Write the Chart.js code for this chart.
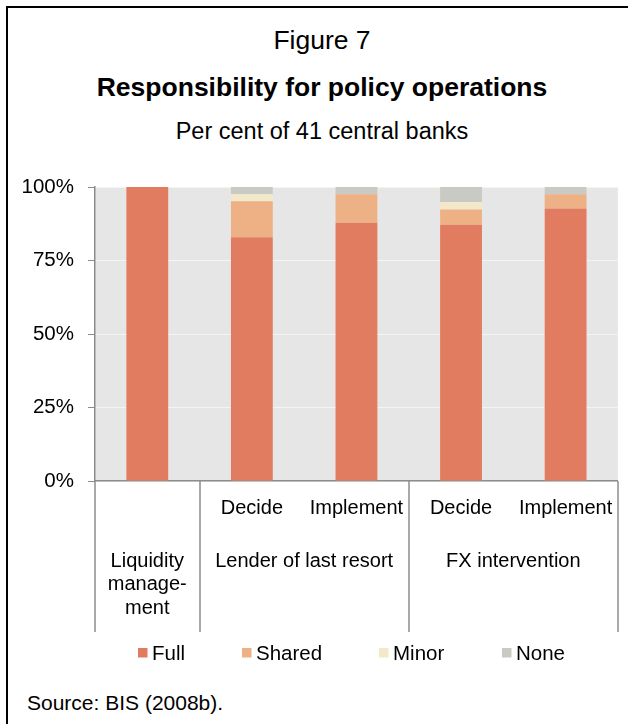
<!DOCTYPE html>
<html>
<head>
<meta charset="utf-8">
<script src="https://cdn.jsdelivr.net/npm/chart.js@4.4.1/dist/chart.umd.min.js"></script>
<style>
  html, body { margin:0; padding:0; background:#fff; overflow:hidden; }
  body { width:628px; height:724px; position:relative; font-family:"Liberation Sans", Arial, sans-serif; color:#000; }
  .ln { position:absolute; background:#000; }
  .txt { position:absolute; left:0; width:644px; text-align:center; white-space:nowrap; }
  #c { position:absolute; left:0; top:0; }
</style>
</head>
<body>
<div class="ln" style="left:6px;top:6px;width:622px;height:2px;"></div>
<div class="ln" style="left:6px;top:6px;width:2px;height:718px;"></div>
<div class="txt" style="top:24px;font-size:26.5px;line-height:32px;">Figure 7</div>
<div class="txt" style="top:71px;font-size:26.5px;line-height:32px;font-weight:bold;">Responsibility for policy operations</div>
<div class="txt" style="top:117px;font-size:23.5px;line-height:28px;">Per cent of 41 central banks</div>
<div style="position:absolute;left:27px;top:690px;font-size:21px;line-height:26px;white-space:nowrap;">Source: BIS (2008b).</div>
<canvas id="c" width="628" height="724"></canvas>
<script>
// ---- data ----
const categories = ['Liquidity management', 'LOLR decide', 'LOLR implement', 'FX decide', 'FX implement'];
const subLabels = ['', 'Decide', 'Implement', 'Decide', 'Implement'];
const groupLabels = [['Liquidity', 'manage-', 'ment'], ['Lender of last resort'], ['FX intervention']];
const groupStarts = [0, 1, 3];
const groupEnds = [0, 2, 4];
const seriesNames = ['Full', 'Shared', 'Minor', 'None'];
const full   = [100, 82.93, 87.80, 87.18, 92.68];
const shared = [0, 12.20, 9.76, 5.13, 4.88];
const minor  = [0, 2.44, 0, 2.56, 0];
const none   = [0, 2.44, 2.44, 5.13, 2.44];
const yTicks = [0, 25, 50, 75, 100];

const colors = ['#E27C60', '#EEB185', '#F3E8C9', '#CACAC5'];
const seriesValues = [full, shared, minor, none];

const FONT = '"Liberation Sans", Arial, sans-serif';

const decor = {
  id: 'decor',
  beforeDraw(chart) {
    const a = chart.chartArea, ctx = chart.ctx;
    ctx.save();
    ctx.fillStyle = '#E6E6E6';
    ctx.fillRect(a.left, a.top, a.right - a.left, a.bottom - a.top);
    ctx.restore();
  },
  afterDraw(chart) {
    const a = chart.chartArea, ctx = chart.ctx, x = chart.scales.x;
    const half = (x.getPixelForValue(1) - x.getPixelForValue(0)) / 2;
    ctx.save();
    // separators
    ctx.strokeStyle = '#8C8C8C';
    ctx.lineWidth = 1.5;
    const bounds = groupStarts.map(i => x.getPixelForValue(i) - half);
    bounds.push(x.getPixelForValue(groupEnds[groupEnds.length - 1]) + half);
    bounds.forEach(bx => {
      ctx.beginPath();
      ctx.moveTo(Math.round(bx), a.bottom);
      ctx.lineTo(Math.round(bx), 632);
      ctx.stroke();
    });
    // group labels
    ctx.fillStyle = '#000';
    ctx.font = '20px ' + FONT;
    ctx.textAlign = 'center';
    ctx.textBaseline = 'middle';
    groupLabels.forEach((lines, g) => {
      const cx = (x.getPixelForValue(groupStarts[g]) + x.getPixelForValue(groupEnds[g])) / 2;
      lines.forEach((t, k) => ctx.fillText(t, cx, 561 + k * 23.5));
    });
    // legend
    const legendX = [138, 242, 379, 502];
    ctx.font = '20.5px ' + FONT;
    ctx.textAlign = 'left';
    chart.data.datasets.forEach((ds, i) => {
      ctx.fillStyle = ds.backgroundColor;
      ctx.fillRect(legendX[i], 648, 9.5, 9.5);
      ctx.fillStyle = '#000';
      ctx.fillText(ds.label, legendX[i] + 14, 654);
    });
    ctx.restore();
  }
};

new Chart(document.getElementById('c'), {
  type: 'bar',
  data: {
    labels: categories,
    datasets: seriesNames.map((n, i) => ({
      label: n,
      data: seriesValues[i],
      backgroundColor: colors[i],
      borderWidth: 0,
      barPercentage: 0.4,
      categoryPercentage: 1.0
    }))
  },
  options: {
    responsive: false,
    animation: false,
    devicePixelRatio: 1,
    layout: { padding: { top: 187, right: 7, left: 0, bottom: 0 } },
    plugins: { legend: { display: false }, tooltip: { enabled: false }, title: { display: false } },
    scales: {
      x: {
        stacked: true,
        grid: { display: false, drawTicks: false },
        border: { display: true, color: '#8C8C8C', width: 1.5 },
        ticks: {
          autoSkip: false, maxRotation: 0, padding: 15,
          color: '#000', font: { family: FONT, size: 20 },
          callback: (v, i) => subLabels[i]
        },
        afterFit: s => { s.height = 243; }
      },
      y: {
        stacked: true,
        min: 0, max: 100,
        afterBuildTicks: s => { s.ticks = yTicks.map(v => ({ value: v })); },
        grid: { color: '#F4F4F4', lineWidth: 1, drawTicks: true, tickLength: 7, tickColor: '#8C8C8C' },
        border: { display: true, color: '#8C8C8C', width: 1.5 },
        ticks: {
          padding: 14, color: '#000', font: { family: FONT, size: 20.5 },
          callback: v => v + '%'
        },
        afterFit: s => { s.width = 95; }
      }
    }
  },
  plugins: [decor]
});
</script>
</body>
</html>
